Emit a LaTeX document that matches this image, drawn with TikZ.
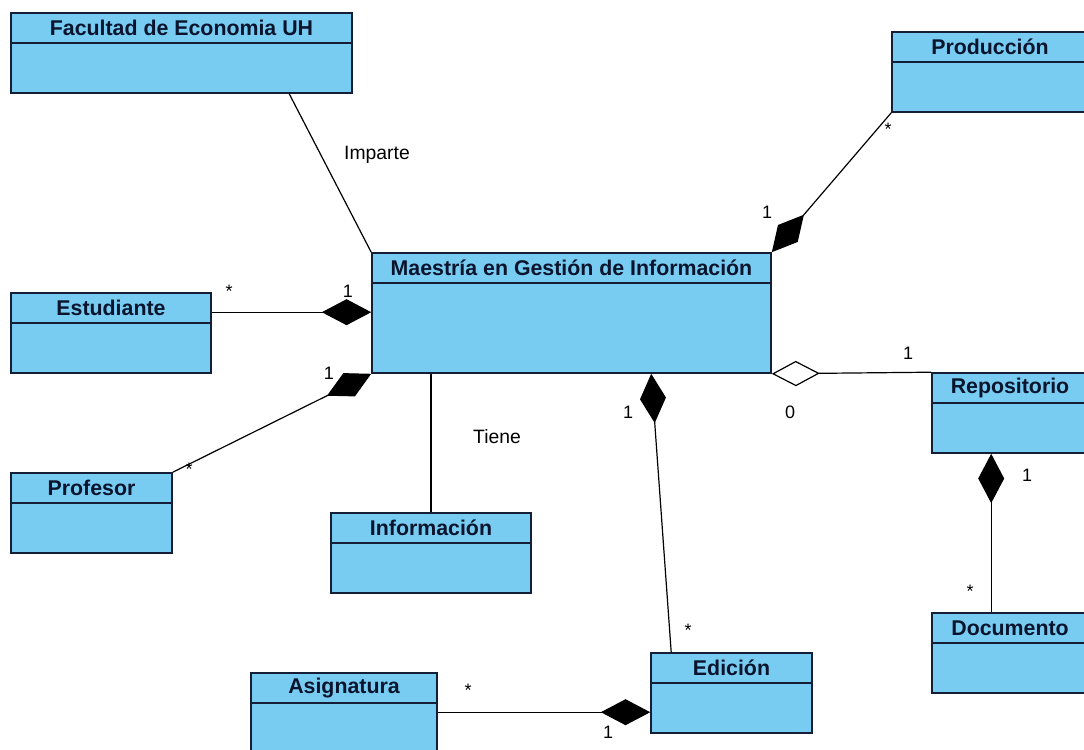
\documentclass[tikz,border=0pt]{standalone}
\usepackage{fontspec}
\setmainfont{Liberation Sans}
\usetikzlibrary{arrows.meta,calc,fit}
\definecolor{clsfill}{RGB}{120,204,242}
\definecolor{clsdraw}{RGB}{20,30,55}
\definecolor{clstext}{RGB}{10,20,45}
\tikzset{
  cls/.style={draw=clsdraw, fill=clsfill, line width=1.2pt, inner sep=0pt},
  ttl/.style={font=\bfseries\fontsize{16}{18}\selectfont, text=clstext, inner sep=0pt},
  hdr/.style={draw=clsdraw, line width=1.2pt},
  conn/.style={draw=black, line width=0.9pt},
  comp/.style={conn, -{Diamond[length=37pt,width=19.5pt]}},
  aggr/.style={conn, -{Diamond[open,fill=white,length=36pt,width=19pt]}},
  lbl/.style={font=\fontsize{14.5}{16}\selectfont, inner sep=0pt},
  mult/.style={font=\fontsize{13.5}{15}\selectfont, inner sep=0pt},
}
\newcommand{\umlclass}[7]{%
  \node[cls, fit={(#2,#3)(#4,#5)}] (#1) {};
  \draw[hdr] (#1.west |- 0,#6) -- (#1.east |- 0,#6);
  \node[ttl] (#1-t) at ({(#2+#4)/2},{(#3+#6)/2}) {#7};
}
\begin{document}
\begin{tikzpicture}[x=0.75pt,y=-0.75pt]
\fill[white] (0,0) rectangle (1084,749);
\clip (0,0) rectangle (1084,749);
\useasboundingbox (0,0) rectangle (1084,749);

% classes
\umlclass{fac}{11}{13}{352}{93}{43}{Facultad de Economia UH}
\umlclass{pro}{892}{32}{1088}{112}{62}{Producción}
\umlclass{mae}{372}{253}{771}{373}{283}{Maestría en Gestión de Información}
\umlclass{est}{11}{293}{211}{373}{323}{Estudiante}
\umlclass{prof}{11}{473}{172}{553}{503}{Profesor}
\umlclass{inf}{331}{513}{531}{593}{543}{Información}
\umlclass{rep}{932}{373}{1088}{453}{403}{Repositorio}
\umlclass{doc}{932}{613}{1088}{693}{643}{Documento}
\umlclass{edi}{651}{653}{812}{733}{683}{Edición}
\umlclass{asi}{251}{673}{437}{760}{703}{Asignatura}

% connectors
\draw[conn] ($(fac.south west)+(279,0)$) -- (mae.north west);
\draw[comp] (pro.south west) -- (mae.north east);
\draw[comp] ($(est.north east)+(0,20)$) -- ($(mae.north west)+(0,60)$);
\draw[comp] (prof.north east) -- (mae.south west);
\draw[conn] (inf.north) -- (inf.north |- mae.south);
\draw[comp] ($(edi.north west)+(21,0)$) -- ($(mae.south west)+(280,0)$);
\draw[aggr] (rep.north west) -- (mae.south east);
\draw[comp] ($(doc.north west)+(60,0)$) -- ($(rep.south west)+(60,0)$);
\draw[comp] ($(asi.north east)+(0,40)$) -- ($(edi.north west)+(0,60)$);

% association labels
\node[lbl] (l-imparte) at (377,155) {Imparte};
\node[lbl] (l-tiene) at (497,437) {Tiene};

% multiplicities
\node[mult] (m-pro-s) at (888,129) {*};
\node[mult] (m-pro-1) at (767,212) {1};
\node[mult] (m-est-s) at (229,291) {*};
\node[mult] (m-est-1) at (348,291) {1};
\node[mult] (m-prof-1) at (329,373) {1};
\node[mult] (m-prof-s) at (189,469) {*};
\node[mult] (m-edi-1) at (628,412) {1};
\node[mult] (m-edi-s) at (688,630) {*};
\node[mult] (m-rep-1) at (908,353) {1};
\node[mult] (m-rep-0) at (790,412) {0};
\node[mult] (m-doc-1) at (1027,475) {1};
\node[mult] (m-doc-s) at (970,591) {*};
\node[mult] (m-asi-s) at (468,690) {*};
\node[mult] (m-asi-1) at (608,732) {1};
\end{tikzpicture}
\end{document}
